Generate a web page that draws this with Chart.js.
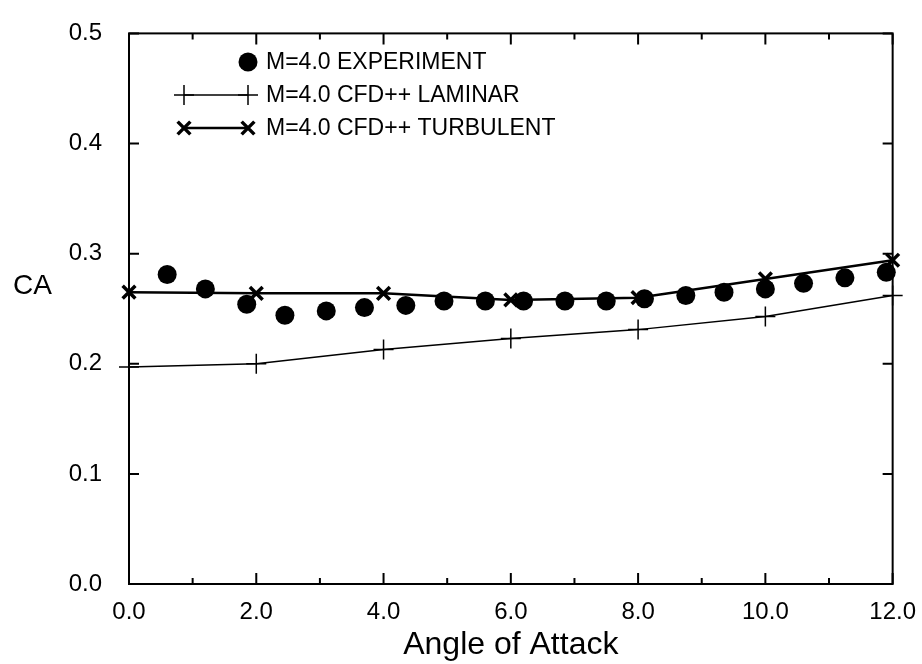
<!DOCTYPE html>
<html>
<head>
<meta charset="utf-8">
<script src="https://cdn.jsdelivr.net/npm/chart.js@4.4.1/dist/chart.umd.min.js"></script>
<style>
  html, body { margin: 0; padding: 0; background: #fff; }
  #chart { display: block; }
</style>
</head>
<body>
<canvas id="chart" width="922" height="664"></canvas>
<script>
// axial force coefficient vs angle of attack, M=4.0
var aoaExp = [0.6, 1.2, 1.85, 2.45, 3.1, 3.7, 4.35, 4.95, 5.6, 6.2, 6.85, 7.5, 8.1, 8.75, 9.35, 10.0, 10.6, 11.25, 11.9];
var caExp = [0.281, 0.268, 0.254, 0.244, 0.248, 0.251, 0.253, 0.257, 0.257, 0.257, 0.257, 0.257, 0.259, 0.262, 0.265, 0.268, 0.273, 0.278, 0.283];

var aoaCfd = [0, 2, 4, 6, 8, 10, 12];
var caLaminar = [0.197, 0.200, 0.213, 0.223, 0.231, 0.243, 0.262];
var caTurbulent = [0.265, 0.264, 0.264, 0.258, 0.260, 0.277, 0.294];

var xTicks = [0, 2, 4, 6, 8, 10, 12];
var yTicks = [0, 0.1, 0.2, 0.3, 0.4, 0.5];

var seriesNames = ['M=4.0 EXPERIMENT', 'M=4.0 CFD++ LAMINAR', 'M=4.0 CFD++ TURBULENT'];

var FONT = '"Liberation Sans", Arial, Helvetica, sans-serif';

function toPoints(xs, ys) {
  return xs.map(function(x, i) { return { x: x, y: ys[i] }; });
}

// frame, inward ticks, the "CA" label and the legend box
var framePlugin = {
  id: 'frame',
  afterDraw: function(chart) {
    var ctx = chart.ctx;
    var a = chart.chartArea;
    var xs = chart.scales.x;
    var ys = chart.scales.y;
    var helpers = Chart.helpers;

    ctx.save();
    ctx.strokeStyle = '#000';
    ctx.lineWidth = 2;
    ctx.strokeRect(a.left, a.top, a.right - a.left, a.bottom - a.top);

    ctx.beginPath();
    yTicks.forEach(function(v) {
      var py = ys.getPixelForValue(v);
      ctx.moveTo(a.left, py); ctx.lineTo(a.left + 10, py);
      ctx.moveTo(a.right, py); ctx.lineTo(a.right - 10, py);
    });
    for (var v = 0; v <= 12; v++) {
      var px = xs.getPixelForValue(v);
      var len = v % 2 === 0 ? 11 : 6;
      ctx.moveTo(px, a.bottom); ctx.lineTo(px, a.bottom - len);
      ctx.moveTo(px, a.top); ctx.lineTo(px, a.top + len);
    }
    ctx.stroke();

    ctx.fillStyle = '#000';
    ctx.font = '28px ' + FONT;
    ctx.textAlign = 'left';
    ctx.textBaseline = 'middle';
    ctx.fillText('CA', 13, ys.getPixelForValue(0.27));

    // legend
    var lx0 = 184, lx1 = 248, tx = 266;
    var rows = [62, 95, 128];
    ctx.font = '23px ' + FONT;
    chart.data.datasets.forEach(function(ds, i) {
      var y = rows[i];
      var marker = { pointStyle: ds.pointStyle, radius: ds.pointRadius, rotation: 0, borderWidth: ds.pointBorderWidth };
      ctx.strokeStyle = '#000';
      ctx.fillStyle = '#000';
      if (ds.showLine) {
        ctx.lineWidth = ds.borderWidth;
        ctx.beginPath();
        ctx.moveTo(lx0, y); ctx.lineTo(lx1, y);
        ctx.stroke();
        ctx.lineWidth = ds.pointBorderWidth;
        helpers.drawPoint(ctx, marker, lx0, y);
      }
      ctx.lineWidth = ds.pointBorderWidth;
      helpers.drawPoint(ctx, marker, lx1, y);
      ctx.fillStyle = '#000';
      ctx.fillText(ds.label, tx, y + 1);
    });
    ctx.restore();
  }
};

var ctx = document.getElementById('chart').getContext('2d');
var chart = new Chart(ctx, {
  type: 'scatter',
  data: {
    datasets: [{
      label: seriesNames[0],
      data: toPoints(aoaExp, caExp),
      showLine: false,
      pointStyle: 'circle',
      pointRadius: 9.5,
      pointBorderWidth: 0,
      backgroundColor: '#000',
      borderColor: '#000'
    }, {
      label: seriesNames[1],
      data: toPoints(aoaCfd, caLaminar),
      showLine: true,
      borderWidth: 1.5,
      pointStyle: 'cross',
      pointRadius: 10,
      pointBorderWidth: 1.5,
      backgroundColor: '#000',
      borderColor: '#000'
    }, {
      label: seriesNames[2],
      data: toPoints(aoaCfd, caTurbulent),
      showLine: true,
      borderWidth: 2.5,
      pointStyle: 'crossRot',
      pointRadius: 9,
      pointBorderWidth: 3.5,
      backgroundColor: '#000',
      borderColor: '#000'
    }]
  },
  options: {
    responsive: false,
    animation: false,
    devicePixelRatio: 1,
    clip: false,
    layout: { padding: { left: 0, top: 22, right: 27, bottom: 0 } },
    plugins: {
      legend: { display: false },
      tooltip: { enabled: false }
    },
    scales: {
      x: {
        type: 'linear',
        min: 0,
        max: 12,
        afterFit: function(scale) { scale.height = 80; },
        afterBuildTicks: function(scale) {
          scale.ticks = xTicks.map(function(v) { return { value: v }; });
        },
        grid: { display: false },
        border: { display: false },
        ticks: {
          color: '#000',
          padding: 6,
          maxRotation: 0,
          font: { family: FONT, size: 24 },
          callback: function(v) { return v.toFixed(1); }
        },
        title: {
          display: true,
          text: 'Angle of Attack',
          color: '#000',
          font: { family: FONT, size: 32 },
          padding: { top: 0, bottom: 0 }
        }
      },
      y: {
        type: 'linear',
        min: 0,
        max: 0.5,
        afterFit: function(scale) { scale.width = 129; },
        afterBuildTicks: function(scale) {
          scale.ticks = yTicks.map(function(v) { return { value: v }; });
        },
        grid: { display: false },
        border: { display: false },
        ticks: {
          color: '#000',
          padding: 19,
          font: { family: FONT, size: 24 },
          callback: function(v) { return v.toFixed(1); }
        }
      }
    }
  },
  plugins: [framePlugin]
});
</script>
</body>
</html>
